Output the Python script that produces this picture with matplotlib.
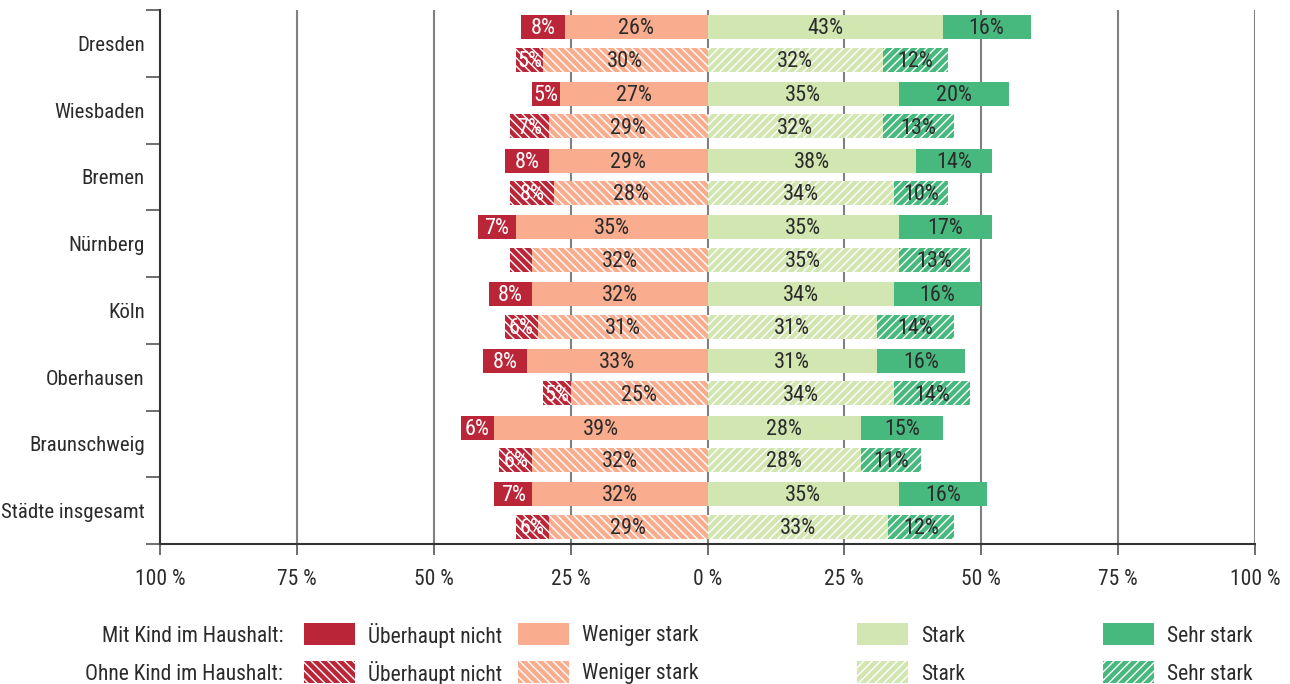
import numpy as np
import matplotlib
matplotlib.use("Agg")
import matplotlib.pyplot as plt
from matplotlib.patches import Rectangle

plt.rcParams['font.family'] = ['Roboto Condensed', 'Roboto', 'DejaVu Sans']
plt.rcParams['hatch.linewidth'] = 1.0

# city order, top to bottom
cities = ["Dresden", "Wiesbaden", "Bremen", "Nürnberg", "Köln",
          "Oberhausen", "Braunschweig", "Städte insgesamt"]

# with child in household (%)
mit_ueberhaupt = [8, 5, 8, 7, 8, 8, 6, 7]
mit_weniger = [26, 27, 29, 35, 32, 33, 39, 32]
mit_stark = [43, 35, 38, 35, 34, 31, 28, 35]
mit_sehr = [16, 20, 14, 17, 16, 16, 15, 16]

# without child in household (%)
ohne_ueberhaupt = [5, 7, 8, 4, 6, 5, 6, 6]
ohne_weniger = [30, 29, 28, 32, 31, 25, 32, 29]
ohne_stark = [32, 32, 34, 35, 31, 34, 28, 33]
ohne_sehr = [12, 13, 10, 13, 14, 14, 11, 12]

x_ticks = [-100, -75, -50, -25, 0, 25, 50, 75, 100]
x_ticklabels = ["100 %", "75 %", "50 %", "25 %", "0 %", "25 %", "50 %", "75 %", "100 %"]

c_ueberhaupt = "#BA2638"
c_weniger = "#F9AC8E"
c_stark = "#D1E6B0"
c_sehr = "#48B97E"
text_col = "#2b2b2b"
HL = "\\\\\\\\"
HR = "////"

fig = plt.figure(figsize=(12.9, 6.84), dpi=100)
ax = fig.add_axes([160/1290, 1-544/684, (1255-160)/1290, (544-10)/684])

y = np.arange(len(cities))
off = 0.245
h = 0.36


def draw_row(ypos, ue, we, st, se, hatched):
    ue = np.array(ue, float)
    we = np.array(we, float)
    st = np.array(st, float)
    se = np.array(se, float)
    segs = [
        (-(ue + we), ue, c_ueberhaupt, "white", HL),
        (-we, we, c_weniger, text_col, HL),
        (np.zeros_like(st), st, c_stark, text_col, HR),
        (st, se, c_sehr, text_col, HR),
    ]
    for left, width, col, tcol, hatch in segs:
        ax.barh(ypos, width, left=left, height=h, color=col,
                edgecolor="white", linewidth=0,
                hatch=hatch if hatched else None, zorder=2)
        for yy, l, w in zip(ypos, left, width):
            if w >= 5:
                ax.text(l + w/2, yy + 0.025, f"{int(w)}%", ha="center",
                        va="center", fontsize=16, color=tcol, zorder=3)


draw_row(y - off, mit_ueberhaupt, mit_weniger, mit_stark, mit_sehr, False)
draw_row(y + off, ohne_ueberhaupt, ohne_weniger, ohne_stark, ohne_sehr, True)

ax.set_xlim(-100, 100)
ax.set_ylim(len(cities) - 0.5, -0.5)
ax.set_xticks(x_ticks)
ax.set_xticklabels(x_ticklabels, fontsize=15.5, color=text_col)
ax.tick_params(axis="x", length=8, width=1.2, color="#555555", pad=10)
ax.set_yticks(y)
ax.set_yticklabels(cities, fontsize=15, color=text_col)
ax.set_yticks(np.arange(len(cities) + 1) - 0.5, minor=True)
ax.tick_params(axis="y", which="major", length=0, pad=11)
ax.tick_params(axis="y", which="minor", length=10, width=1.2, color="#555555")
ax.xaxis.grid(True, color="#808080", linewidth=1.5, zorder=0)
ax.set_axisbelow(True)
for s in ["top", "right"]:
    ax.spines[s].set_visible(False)
ax.spines["left"].set_color("#333333")
ax.spines["left"].set_linewidth(1.5)
ax.spines["bottom"].set_color("#333333")
ax.spines["bottom"].set_linewidth(1.5)

# legend drawn in pixel space below the plot
lax = fig.add_axes([0, 0, 1, 1], zorder=-1)
lax.set_xlim(0, 1290)
lax.set_ylim(684, 0)
lax.axis("off")
row_labels = ["Mit Kind im Haushalt:", "Ohne Kind im Haushalt:"]
leg_names = ["Überhaupt nicht", "Weniger stark", "Stark", "Sehr stark"]
leg_cols = [c_ueberhaupt, c_weniger, c_stark, c_sehr]
leg_hatch = [HL, HL, HR, HR]
leg_x = [304, 518, 857, 1103]
for r, (ry, rl) in enumerate(zip([634, 672], row_labels)):
    lax.text(283, ry + 2, rl, ha="right", va="center", fontsize=15.5,
             color=text_col)
    for px, name, col, hat in zip(leg_x, leg_names, leg_cols, leg_hatch):
        lax.add_patch(Rectangle((px, ry - 11), 51, 22, facecolor=col,
                                edgecolor="white", linewidth=0,
                                hatch=hat if r == 1 else None))
        lax.text(px + 64, ry + 2, name, ha="left", va="center", fontsize=15.5,
                 color=text_col)

fig.savefig("out.png", dpi=100)
